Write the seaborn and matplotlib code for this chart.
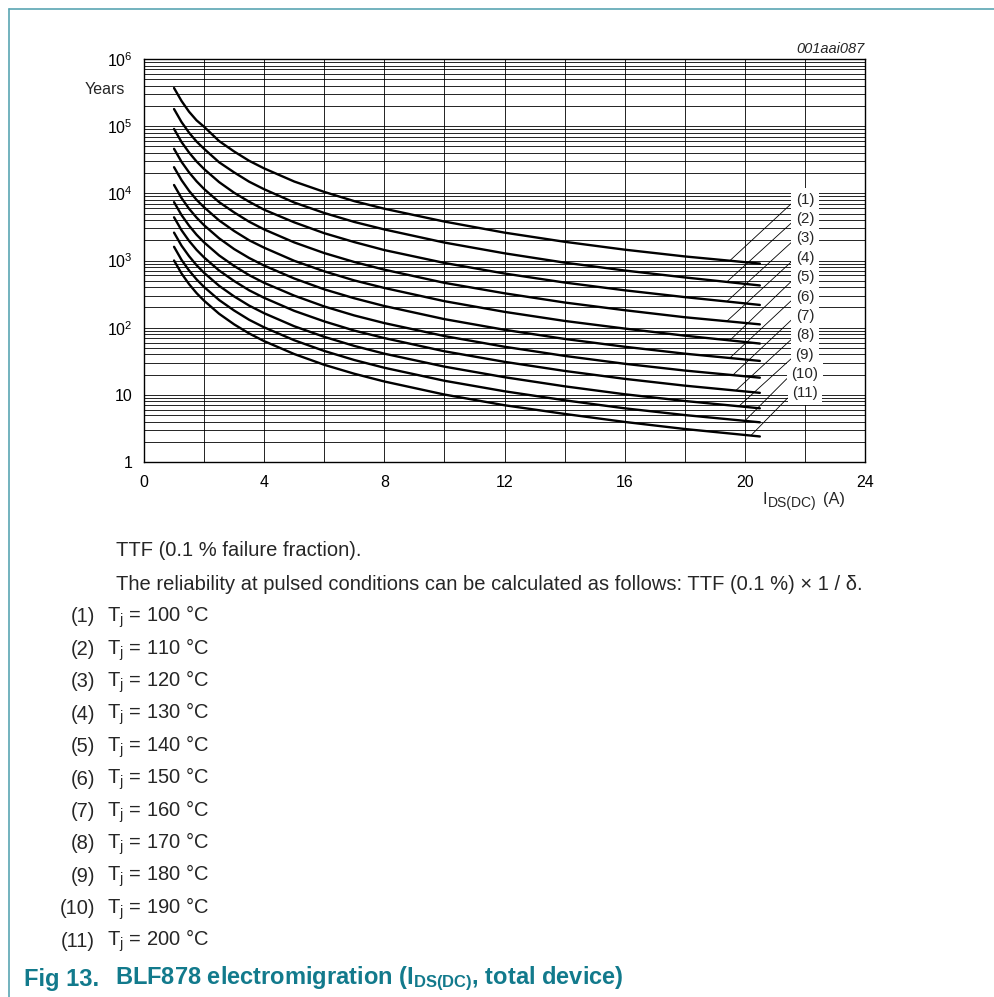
import numpy as np
import pandas as pd
import seaborn as sns
import matplotlib.pyplot as plt
from matplotlib.lines import Line2D
from matplotlib.ticker import MultipleLocator, LogLocator, NullFormatter

# Drain current (A) where the curves were read
current = [1, 1.25, 1.5, 1.75, 2, 2.5, 3, 3.5, 4, 5, 6, 7, 8, 10, 12, 14, 16, 18, 20.5]

# TTF in years for each junction temperature
ttf_1 = [370000, 237000, 164000, 122000, 98000, 60000, 42000, 30500, 23500, 15000, 10500, 7650, 5900, 3800, 2600, 1900, 1450, 1150, 900]
ttf_2 = [180000, 115000, 80000, 59000, 46000, 29000, 20500, 14900, 11500, 7300, 5100, 3750, 2900, 1850, 1280, 930, 710, 560, 425]
ttf_3 = [91000, 58000, 40500, 29800, 23000, 14700, 10200, 7500, 5700, 3700, 2550, 1880, 1430, 920, 640, 470, 360, 285, 218]
ttf_4 = [46000, 29400, 20500, 15100, 11600, 7400, 5200, 3780, 2900, 1860, 1290, 950, 730, 465, 325, 237, 182, 143, 112]
ttf_5 = [24500, 15700, 10900, 8000, 6200, 3950, 2750, 2000, 1550, 990, 690, 505, 390, 248, 172, 126, 97, 76, 58]
ttf_6 = [13300, 8500, 5900, 4350, 3350, 2140, 1480, 1090, 840, 540, 372, 274, 210, 134, 93, 68, 52, 41, 32]
ttf_7 = [7400, 4740, 3300, 2420, 1860, 1190, 830, 605, 465, 300, 207, 152, 117, 75, 52, 38, 29, 23, 18]
ttf_8 = [4400, 2820, 1960, 1440, 1110, 710, 495, 360, 278, 178, 124, 90.5, 70, 44.5, 31, 22.7, 17.3, 13.7, 10.7]
ttf_9 = [2600, 1660, 1160, 850, 655, 420, 292, 213, 164, 105, 73, 53.5, 41, 26.3, 18.3, 13.4, 10.2, 8.1, 6.3]
ttf_10 = [1600, 1020, 710, 523, 403, 258, 180, 131, 101, 65, 45, 33, 25.3, 16.2, 11.3, 8.3, 6.3, 5.0, 3.9]
ttf_11 = [1000, 640, 445, 327, 252, 161, 112, 82, 63, 40.5, 28, 20.6, 15.8, 10.1, 7.0, 5.2, 3.95, 3.1, 2.4]

labels = ["(1)", "(2)", "(3)", "(4)", "(5)", "(6)", "(7)", "(8)", "(9)", "(10)", "(11)"]
tj = [100, 110, 120, 130, 140, 150, 160, 170, 180, 190, 200]
# current where each leader line touches its curve
leader_x = [19.5, 19.4, 19.4, 19.4, 19.5, 19.5, 19.6, 19.7, 19.8, 20.0, 20.2]

curves = [ttf_1, ttf_2, ttf_3, ttf_4, ttf_5, ttf_6, ttf_7, ttf_8, ttf_9, ttf_10, ttf_11]
df = pd.DataFrame({
    "I": np.tile(current, len(curves)),
    "TTF": np.concatenate(curves),
    "curve": np.repeat(labels, len(current)),
})

sns.set_style("white")
plt.rcParams["font.family"] = ["Liberation Sans", "DejaVu Sans"]
plt.rcParams["mathtext.fontset"] = "custom"
plt.rcParams["mathtext.rm"] = "Liberation Sans"
plt.rcParams["mathtext.it"] = "Liberation Sans:italic"
plt.rcParams["mathtext.bf"] = "Liberation Sans:bold"

W, H = 995, 997
fig = plt.figure(figsize=(W / 100, H / 100), dpi=100)
ax = fig.add_axes([144 / W, 1 - 462 / H, 721 / W, 403 / H])

sns.lineplot(data=df, x="I", y="TTF", hue="curve", hue_order=labels,
             palette=["black"] * len(labels), legend=False, lw=1.7, ax=ax, zorder=3)

ax.set_yscale("log")
ax.set_xlim(0, 24)
ax.set_ylim(1, 1e6)
ax.xaxis.set_major_locator(MultipleLocator(4))
ax.xaxis.set_minor_locator(MultipleLocator(2))
ax.set_yticks([1, 10, 1e2, 1e3, 1e4, 1e5, 1e6])
ax.set_yticklabels(["1", "10"] + [r"$\mathregular{10^{%d}}$" % k for k in range(2, 7)])
ax.yaxis.set_minor_locator(LogLocator(10, subs=range(2, 10), numticks=20))
ax.yaxis.set_minor_formatter(NullFormatter())
ax.grid(True, which="both", color="black", lw=0.6)
ax.tick_params(which="both", length=0, labelsize=11.5, colors="black")
ax.tick_params(axis="x", pad=9)
ax.tick_params(axis="y", pad=8)
for s in ax.spines.values():
    s.set_color("black")
    s.set_linewidth(1.0)
ax.set_xlabel("")
ax.set_ylabel("")

ax.text(-0.026, 0.925, "Years", transform=ax.transAxes, ha="right", va="center", size=11.5)
ax.text(1.0, 1.025, "001aai087", transform=ax.transAxes, ha="right", va="center",
        size=10.5, style="italic")


def fy(py):
    return 1 - py / H


# x axis label, subscript drawn as its own text so it can be larger than mathtext's
fig.text(763 / W, fy(504), "I", va="baseline", size=11.8)
fig.text(768 / W, fy(507), "DS(DC)", va="baseline", size=10)
fig.text(823 / W, fy(504), "(A)", va="baseline", size=11.8)

# curve labels with leader lines
for i, lab in enumerate(labels):
    lx = leader_x[i]
    ly = 10 ** np.interp(lx, current, np.log10(curves[i]))
    ax.annotate(lab, xy=(lx, ly), xytext=(22, 0.651 - 0.0481 * i),
                textcoords=("data", "axes fraction"), ha="center", va="center", size=10.8,
                bbox=dict(boxstyle="square,pad=0.3", fc="white", ec="none"),
                arrowprops=dict(arrowstyle="-", lw=0.6, color="black", relpos=(0, 0.5),
                                shrinkA=0, shrinkB=0),
                zorder=5)

fig.text(116 / W, fy(551), "TTF (0.1 % failure fraction).", va="center", size=14.5)
fig.text(116 / W, fy(584),
         "The reliability at pulsed conditions can be calculated as follows: TTF (0.1 %) \u00d7 1 / \u03b4.",
         va="center", size=14.5)
for i, lab in enumerate(labels):
    y = fy(617 + 32.4 * i)
    fig.text(95 / W, y, lab, ha="right", va="center", size=14.5)
    fig.text(107 / W, y, r"T$_{\mathregular{j}}$" + " = %d °C" % tj[i], va="center", size=14.5)

teal = "#127a8c"
fig.text(24 / W, fy(979), "Fig 13.", va="center", size=17, weight="bold", color=teal)
fig.text(115 / W, fy(979), r"BLF878 electromigration (I$_{\mathbf{DS(DC)}}$, total device)",
         va="center", size=17, weight="bold", color=teal)

# page frame
border = "#5aa6b3"
fig.add_artist(Line2D([9 / W, 1], [fy(9), fy(9)], color=border, lw=1.2))
fig.add_artist(Line2D([9 / W, 9 / W], [fy(9), 0], color=border, lw=1.2))

fig.savefig("out.png", dpi=100)
